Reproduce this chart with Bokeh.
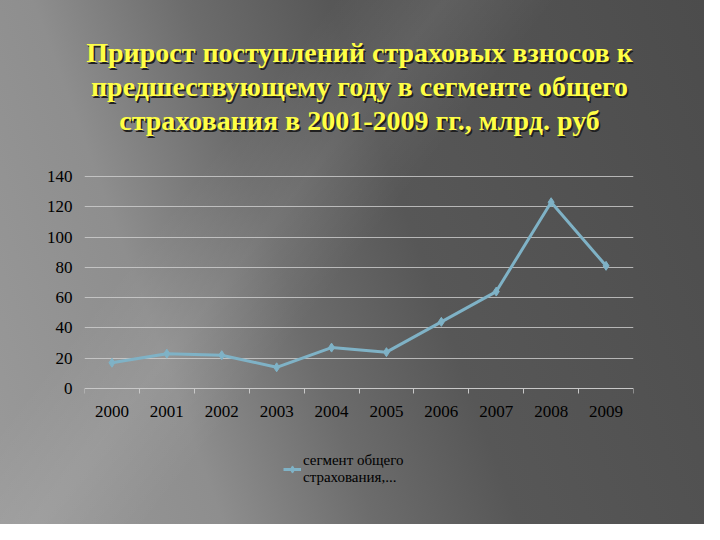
from bokeh.plotting import figure
from bokeh.models import Range1d, FixedTicker, Legend, LegendItem, Label
from bokeh.embed import file_html
from bokeh.resources import INLINE

# прирост взносов, млрд. руб
years = [2000, 2001, 2002, 2003, 2004, 2005, 2006, 2007, 2008, 2009]
values = [17, 23, 22, 14, 27, 24, 44, 64, 123, 81]
y_ticks = [0, 20, 40, 60, 80, 100, 120, 140]

title_lines = ["Прирост поступлений страховых взносов к",
               "предшествующему году в сегменте общего",
               "страхования в 2001-2009 гг., млрд. руб"]
series_name = "сегмент общего\nстрахования,..."

line_color = "#7fb2c6"
serif = "Liberation Serif"

# the frame spans the full height (title and legend live inside it);
# the value axis 0..140 takes 212 px starting 176 px below the top
H = 524
px_per_unit = 212 / (y_ticks[-1] - y_ticks[0])
y_hi = y_ticks[-1] + 176 / px_per_unit
y_lo = y_ticks[-1] - (H - 176) / px_per_unit

p = figure(
    frame_width=549, frame_height=H,
    x_range=Range1d(years[0] - 0.5, years[-1] + 0.5),
    y_range=Range1d(y_lo, y_hi),
    output_backend="svg", toolbar_location=None, tools="",
    min_border_left=84, min_border_right=71,
    min_border_top=0, min_border_bottom=0,
)
p.border_fill_color = None
p.background_fill_color = None
p.outline_line_color = None
p.styles = {
    "background": (
        "linear-gradient(128deg, rgba(255,255,255,0) 30%, rgba(255,255,255,0.07) 40%, "
        "rgba(255,255,255,0) 50%),"
        "linear-gradient(70deg, #9a9a9a 0%, #8e8e8e 25%, #6c6c6c 42%, "
        "#575757 58%, #4c4c4c 100%)"
    )
}

# title, positioned relative to the frame (with a dark shadow)
for i, line in enumerate(title_lines):
    for dx, dy, col in ((1.5, -1.5, "#202020"), (0, 0, "#ffff45")):
        p.add_layout(Label(
            x=275 + dx, y=H - 52 - i * 34 + dy,
            x_units="screen", y_units="screen",
            text=line, text_align="center", text_baseline="middle",
            text_font=serif, text_font_style="bold", text_font_size="28px",
            text_color=col,
        ))

# axes
minor = [y - 0.5 for y in years] + [years[-1] + 0.5]
p.xaxis.fixed_location = 0
p.xaxis.ticker = FixedTicker(ticks=years, minor_ticks=minor)
p.xaxis.major_tick_out = 0
p.xaxis.major_tick_in = 0
p.xaxis.minor_tick_out = 5
p.xaxis.minor_tick_in = 0
p.xaxis.minor_tick_line_color = "#c8c8c8"
p.xaxis.axis_line_color = "#c8c8c8"
p.xaxis.major_label_standoff = 12

p.yaxis.ticker = FixedTicker(ticks=y_ticks)
p.yaxis.major_tick_out = 0
p.yaxis.major_tick_in = 0
p.yaxis.minor_tick_line_color = None
p.yaxis.axis_line_color = None
p.yaxis.major_label_standoff = 12

for ax in (p.xaxis, p.yaxis):
    ax.major_label_text_font = serif
    ax.major_label_text_font_size = "17px"
    ax.major_label_text_color = "black"

p.xgrid.grid_line_color = None
p.ygrid.ticker = FixedTicker(ticks=y_ticks[1:])
p.ygrid.grid_line_color = "#cfcfcf"
p.ygrid.grid_line_alpha = 0.8

# series
ln = p.line(years, values, line_color=line_color, line_width=3)
pts = p.scatter(years, values, marker="diamond", size=9, color=line_color)

legend = Legend(items=[LegendItem(label=series_name, renderers=[ln, pts])])
legend.location = (199, 38)
legend.margin = 0
legend.padding = 0
legend.background_fill_color = None
legend.border_line_color = None
legend.label_text_font = serif
legend.label_text_font_size = "15px"
legend.label_text_color = "black"
legend.label_text_line_height = 1.5
legend.glyph_width = 18
legend.label_standoff = 2
p.add_layout(legend)

open("out.html", "w").write(file_html(p, INLINE))
